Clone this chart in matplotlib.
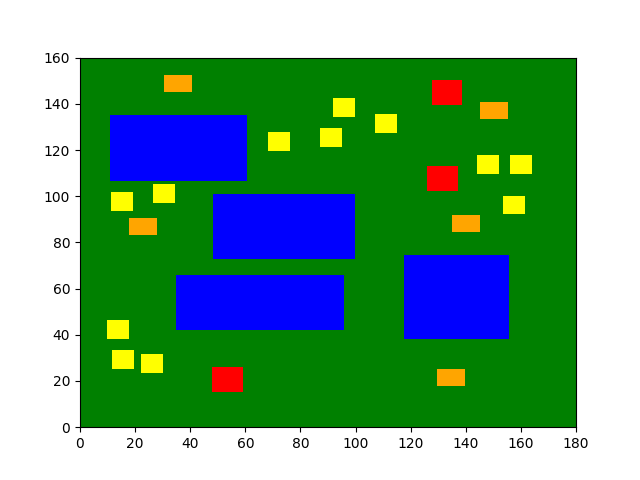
import matplotlib
matplotlib.use("Agg")
import matplotlib.pyplot as plt
from matplotlib.patches import Rectangle

# blue blocks: x, y, width, height
blue_x = [11.0, 48.3, 34.8, 117.6]
blue_y = [106.6, 73.0, 42.2, 38.0]
blue_w = [49.6, 51.5, 60.9, 38.1]
blue_h = [28.5, 27.8, 23.5, 36.4]

# yellow squares
yellow_x = [68.2, 87.1, 11.2, 26.5, 91.8, 107.0, 144.0, 156.0, 153.5, 9.8, 11.6, 22.1]
yellow_y = [119.5, 121.3, 93.8, 97.0, 134.2, 127.2, 109.5, 109.5, 92.1, 38.3, 25.3, 23.6]
yellow_w = 8.0
yellow_h = 8.2

# orange
orange_x = [30.5, 17.8, 145.1, 135.0, 129.5]
orange_y = [145.1, 83.1, 133.4, 84.3, 17.9]
orange_w = 10.1
orange_h = 7.4

# red
red_x = [127.7, 126.0, 48.0]
red_y = [139.5, 102.3, 15.4]
red_w = 11.0
red_h = 10.6

fig, ax = plt.subplots(figsize=(6.4, 4.8), dpi=100)
ax.set_facecolor("green")

for x, y, w, h in zip(blue_x, blue_y, blue_w, blue_h):
    ax.add_patch(Rectangle((x, y), w, h, facecolor="blue", linewidth=0))
for x, y in zip(yellow_x, yellow_y):
    ax.add_patch(Rectangle((x, y), yellow_w, yellow_h, facecolor="yellow", linewidth=0))
for x, y in zip(orange_x, orange_y):
    ax.add_patch(Rectangle((x, y), orange_w, orange_h, facecolor="orange", linewidth=0))
for x, y in zip(red_x, red_y):
    ax.add_patch(Rectangle((x, y), red_w, red_h, facecolor="red", linewidth=0))

ax.set_xlim(0, 180)
ax.set_ylim(0, 160)

plt.savefig("out.png")
